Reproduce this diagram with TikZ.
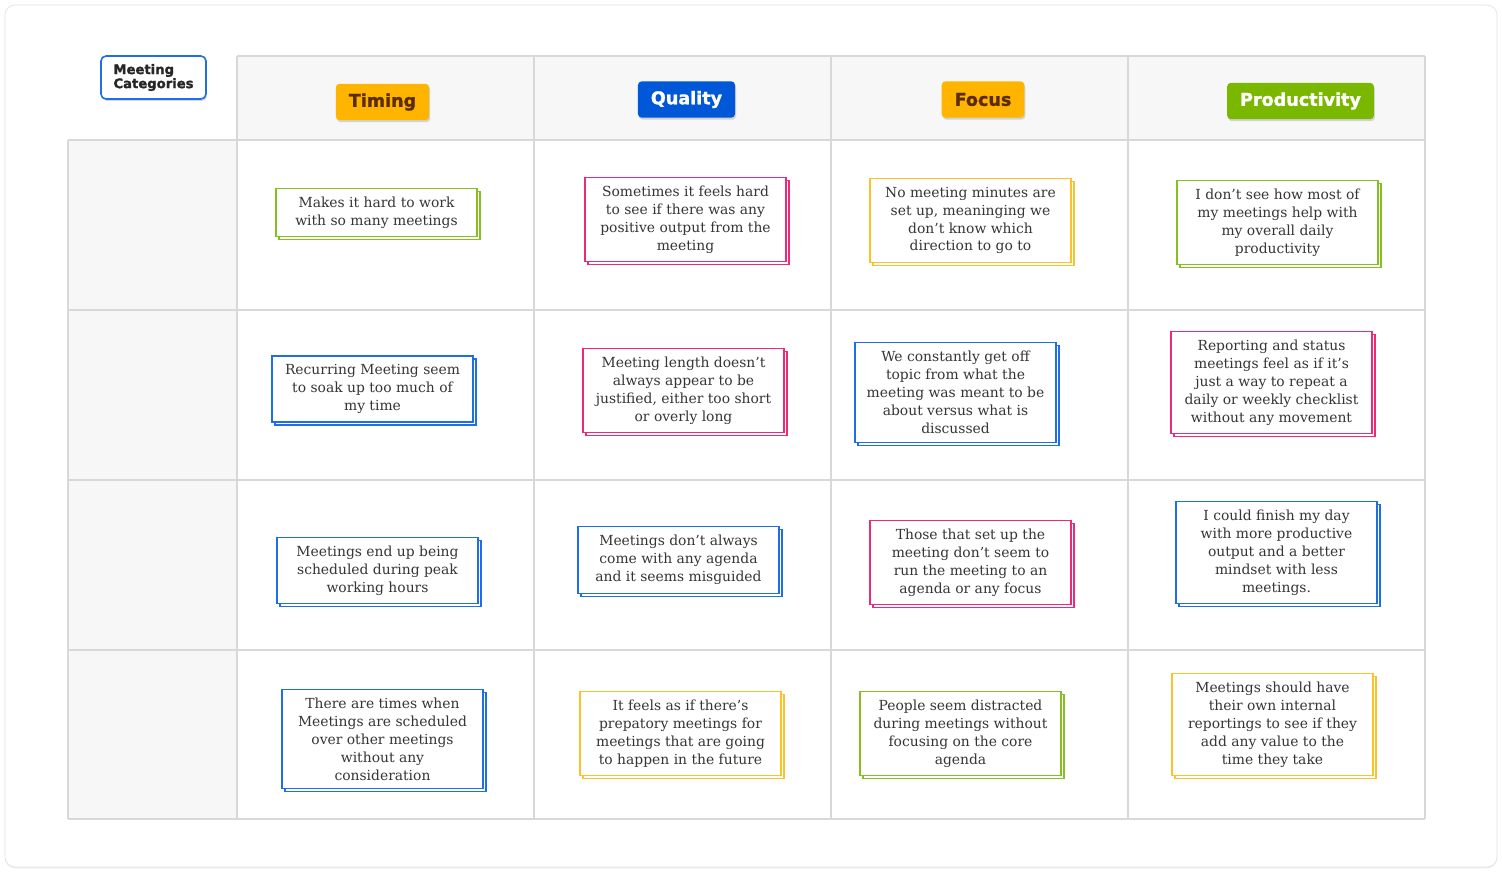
\documentclass[tikz,border=0pt]{standalone}
\usepackage{fontspec}
\setmainfont{DejaVu Serif}
\newfontfamily\headfont{DejaVu Sans}[BoldFeatures={FakeBold=1.5}]
\usetikzlibrary{shadows}
\definecolor{cardgray}{HTML}{E2E2E2}
\definecolor{gridgray}{HTML}{D8D8D8}
\definecolor{cellgray}{HTML}{F7F7F7}
\definecolor{notetext}{HTML}{353535}
\definecolor{notegreen}{HTML}{86C020}
\definecolor{notepink}{HTML}{EC2A78}
\definecolor{noteyellow}{HTML}{FFC12A}
\definecolor{noteblue}{HTML}{1E6FE6}
\definecolor{tagorange}{HTML}{FFB400}
\definecolor{tagbrown}{HTML}{5B2C00}
\definecolor{tagblue}{HTML}{0058D8}
\definecolor{taggreen}{HTML}{7AB800}
\tikzset{
  note/.style={draw=#1, fill=white, line width=0.8pt, align=center,
    minimum width=4.02cm, inner xsep=0.1cm, inner ysep=0.17cm, text=notetext,
    font=\fontsize{7.9}{10.2}\selectfont,
    copy shadow={shadow xshift=0.06cm, shadow yshift=-0.06cm, draw=#1,
      fill=white, line width=0.8pt}},
  tag/.style={fill=#1, rounded corners=0.08cm, inner xsep=0.26cm,
    minimum height=0.73cm, font=\headfont\bfseries\fontsize{10}{12}\selectfont,
    drop shadow={shadow xshift=0.02cm, shadow yshift=-0.04cm, opacity=0.3}}
}
\begin{document}
\begin{tikzpicture}[x=0.02cm,y=-0.02cm]
\useasboundingbox (0,0) rectangle (1502,872);
\draw[cardgray, fill=white, rounded corners=0.2cm,
  drop shadow={shadow xshift=0cm, shadow yshift=-0.03cm, opacity=0.12}]
(5,5) rectangle (1497,867);

\fill[cellgray]
(237,56) rectangle (1425,140)
(68,140) rectangle (237,819);
\draw[gridgray, line width=0.6pt]
(237,56) -- (1425,56)
(68,140) -- (1425,140)
(68,310) -- (1425,310)
(68,480) -- (1425,480)
(68,650) -- (1425,650)
(68,819) -- (1425,819);
\draw[gridgray, line width=0.6pt]
(68,140) -- (68,819)
(237,56) -- (237,819)
(534,56) -- (534,819)
(831,56) -- (831,819)
(1128,56) -- (1128,819)
(1425,56) -- (1425,819);

\node[draw=noteblue, fill=white, rounded corners=0.1cm, line width=0.9pt,
  minimum width=2.1cm, minimum height=0.86cm, align=left, text=black!85,
  font=\headfont\bfseries\fontsize{7.5}{8}\selectfont,
  drop shadow={shadow xshift=0.02cm, shadow yshift=-0.04cm, opacity=0.3}]
  (cat) at (153.5,77.5) {Meeting\\Categories};
\node[tag=tagorange, text=tagbrown] (timing) at (382.5,102) {Timing};
\node[tag=tagblue, text=white] (quality) at (686.5,99.5) {Quality};
\node[tag=tagorange, text=tagbrown] (focus) at (983,99.5) {Focus};
\node[tag=taggreen, text=white] (prod) at (1300.5,101) {Productivity};

\node[note=notegreen] (t1) at (376.5,212.5) {Makes it hard to work\\with so many meetings};
\node[note=notepink] (q1) at (685.5,219.5) {Sometimes it feels hard\\to see if there was any\\positive output from the\\meeting};
\node[note=noteyellow] (f1) at (970.5,220.5) {No meeting minutes are\\set up, meaninging we\\don't know which\\direction to go to};
\node[note=notegreen] (p1) at (1277.5,222.5) {I don't see how most of\\my meetings help with\\my overall daily\\productivity};

\node[note=noteblue] (t2) at (372.5,389) {Recurring Meeting seem\\to soak up too much of\\my time};
\node[note=notepink] (q2) at (683.5,390.5) {Meeting length doesn't\\always appear to be\\justified, either too short\\or overly long};
\node[note=noteblue] (f2) at (955.5,392.5) {We constantly get off\\topic from what the\\meeting was meant to be\\about versus what is\\discussed};
\node[note=notepink] (p2) at (1271.5,382.5) {Reporting and status\\meetings feel as if it's\\just a way to repeat a\\daily or weekly checklist\\without any movement};

\node[note=noteblue] (t3) at (377.5,570.5) {Meetings end up being\\scheduled during peak\\working hours};
\node[note=noteblue] (q3) at (678.5,560) {Meetings don't always\\come with any agenda\\and it seems misguided};
\node[note=notepink] (f3) at (970.5,562.5) {Those that set up the\\meeting don't seem to\\run the meeting to an\\agenda or any focus};
\node[note=noteblue] (p3) at (1276.5,552.5) {I could finish my day\\with more productive\\output and a better\\mindset with less\\meetings.};

\node[note=noteblue] (t4) at (382.5,739) {There are times when\\Meetings are scheduled\\over other meetings\\without any\\consideration};
\node[note=noteyellow] (q4) at (680.5,733.5) {It feels as if there's\\prepatory meetings for\\meetings that are going\\to happen in the future};
\node[note=notegreen] (f4) at (960.5,733.5) {People seem distracted\\during meetings without\\focusing on the core\\agenda};
\node[note=noteyellow] (p4) at (1272.5,724.5) {Meetings should have\\their own internal\\reportings to see if they\\add any value to the\\time they take};
\end{tikzpicture}
\end{document}
